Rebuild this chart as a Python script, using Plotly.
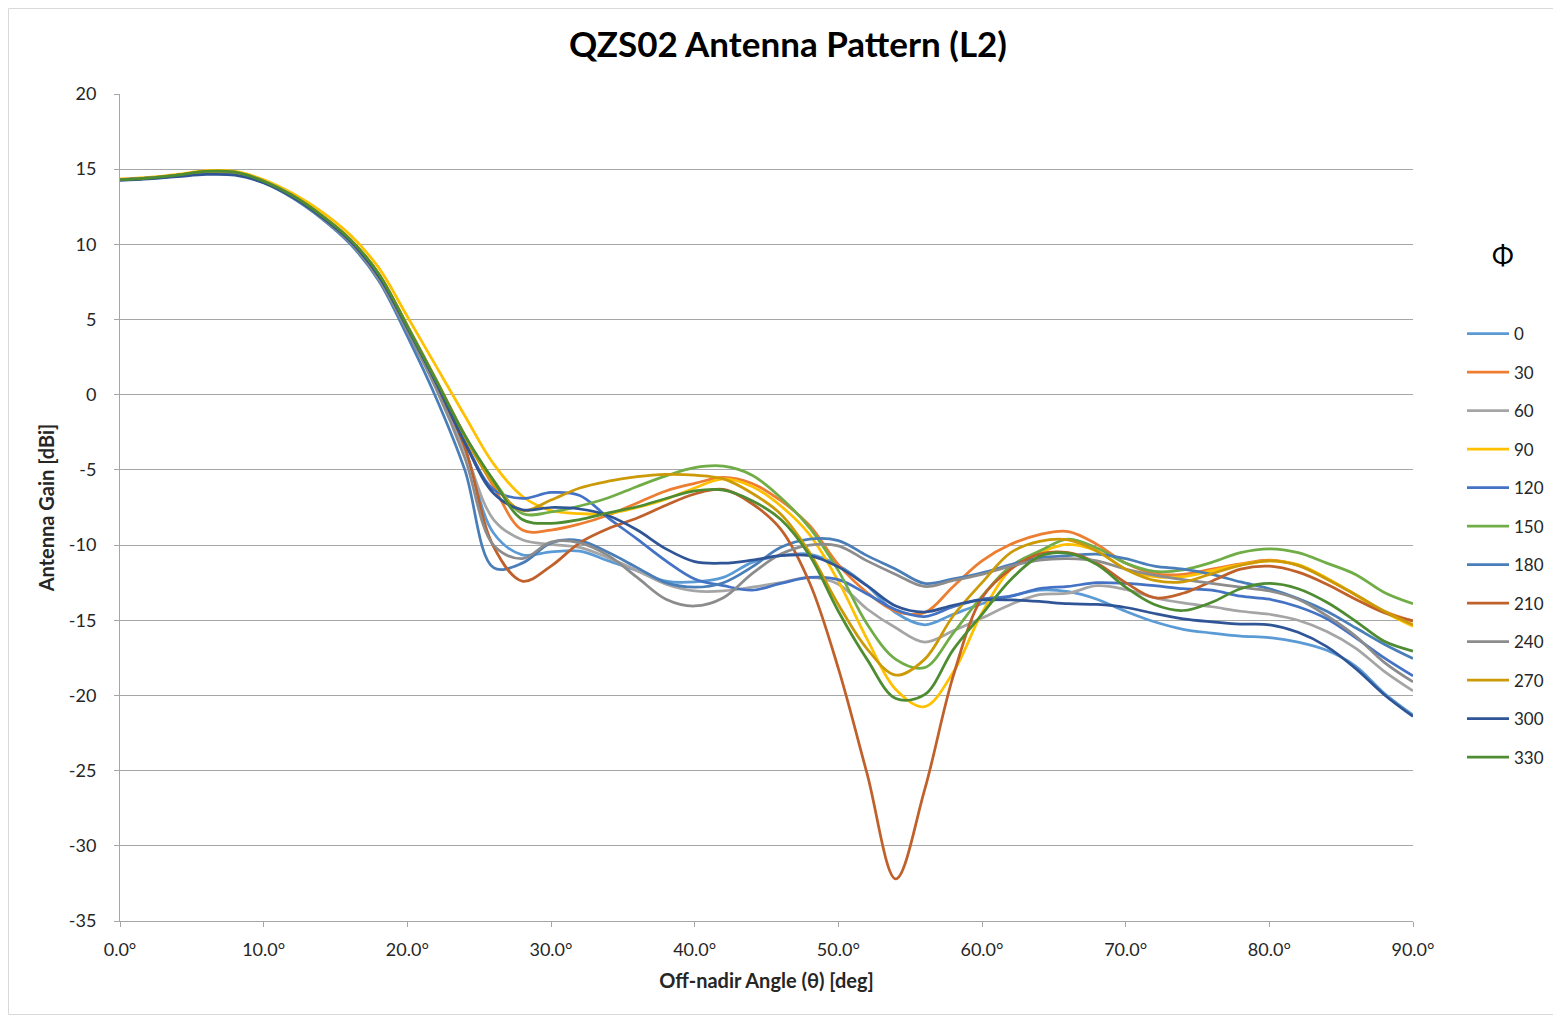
import plotly.graph_objects as go

theta = list(range(0, 92, 2))
x_tick_vals = [0, 10, 20, 30, 40, 50, 60, 70, 80, 90]
x_tick_text = ["0.0°", "10.0°", "20.0°", "30.0°", "40.0°", "50.0°", "60.0°", "70.0°", "80.0°", "90.0°"]
y_tick_vals = [-35, -30, -25, -20, -15, -10, -5, 0, 5, 10, 15, 20]
y_tick_text = ["-35", "-30", "-25", "-20", "-15", "-10", "-5", "0", "5", "10", "15", "20"]
phi_labels = ["0", "30", "60", "90", "120", "150", "180", "210", "240", "270", "300", "330"]

g000 = [14.3,14.4,14.6,14.8,14.75,14.15,13.2,11.85,10.2,7.8, 4.3,0.6,-3.6,-9.2,-10.65, -10.45,-10.4,-11.05,-11.7,-12.4,-12.45,-12.15,-11.15,-10.7,-10.6, -11.35,-12.7,-14.5,-15.3,-14.6,-13.9,-13.4,-13.0,-13.1,-13.6, -14.4,-15.1,-15.6,-15.85,-16.05,-16.15,-16.45,-17.0,-18.05,-19.85,-21.3]
g030 = [14.3,14.4,14.6,14.85,14.8,14.2,13.25,11.95,10.35,8.05, 4.6,1.0,-2.7,-6.1,-9.0, -9.0,-8.6,-8.0,-7.2,-6.4,-5.9,-5.5,-5.9,-7.05,-8.7, -11.3,-13.15,-14.4,-14.5,-12.75,-11.05,-9.95,-9.3,-9.1,-9.95, -11.2,-11.9,-11.95,-11.6,-11.25,-11.0,-11.35,-12.25,-13.3,-14.4,-15.05]
g060 = [14.3,14.4,14.6,14.8,14.75,14.15,13.2,11.85,10.2,7.8, 4.3,0.6,-3.7,-8.3,-9.65, -9.95,-10.15,-10.85,-11.7,-12.6,-13.05,-13.05,-12.8,-12.5,-12.15, -12.6,-14.25,-15.5,-16.45,-15.7,-14.85,-13.95,-13.3,-13.2,-12.7, -12.95,-13.5,-13.85,-14.1,-14.4,-14.6,-15.0,-15.75,-16.85,-18.4,-19.7]
g090 = [14.35,14.45,14.65,14.9,14.85,14.3,13.4,12.2,10.65,8.45, 5.2,1.9,-1.4,-4.6,-6.75, -7.7,-7.9,-7.9,-7.5,-6.95,-6.2,-5.6,-6.1,-7.4,-9.3, -12.4,-16.25,-19.6,-20.75,-18.45,-14.5,-11.6,-10.5,-9.95,-10.4, -11.6,-12.1,-12.1,-11.7,-11.3,-11.05,-11.3,-12.2,-13.3,-14.45,-15.4]
g120 = [14.3,14.4,14.6,14.8,14.75,14.2,13.25,11.9,10.3,7.95, 4.5,0.85,-3.1,-6.3,-6.9, -6.5,-6.7,-8.2,-9.6,-11.05,-12.25,-12.7,-13.0,-12.55,-12.15, -12.3,-13.25,-14.3,-14.75,-14.1,-13.6,-13.4,-12.9,-12.75,-12.5, -12.55,-12.7,-12.9,-13.0,-13.4,-13.6,-14.1,-14.9,-16.15,-17.5,-18.7]
g150 = [14.3,14.4,14.6,14.85,14.8,14.2,13.25,11.95,10.35,8.05, 4.6,1.0,-2.7,-5.7,-7.9, -7.8,-7.4,-6.85,-6.1,-5.4,-4.85,-4.75,-5.35,-6.85,-8.85, -11.7,-15.25,-17.6,-18.15,-15.85,-13.4,-11.4,-10.4,-9.6,-10.2, -11.2,-11.75,-11.65,-11.15,-10.5,-10.25,-10.5,-11.2,-11.95,-13.15,-13.9]
g180 = [14.3,14.4,14.55,14.75,14.7,14.1,13.1,11.75,10.05,7.6, 3.9,-0.2,-5.0,-11.5,-11.2, -9.85,-9.7,-10.5,-11.5,-12.5,-12.8,-12.5,-11.45,-10.15,-9.6, -9.7,-10.7,-11.6,-12.55,-12.25,-11.85,-11.3,-10.85,-10.7,-10.6, -10.9,-11.4,-11.6,-11.95,-12.45,-12.9,-13.55,-14.4,-15.5,-16.6,-17.55]
g210 = [14.3,14.4,14.6,14.8,14.75,14.15,13.2,11.85,10.2,7.8, 4.35,0.7,-3.5,-10.1,-12.4, -11.4,-9.85,-8.9,-8.2,-7.35,-6.6,-6.3,-7.25,-8.95,-12.5, -18.2,-25.2,-32.2,-26.3,-18.7,-13.5,-11.6,-10.6,-10.5,-11.2, -12.5,-13.5,-13.2,-12.4,-11.6,-11.4,-11.8,-12.6,-13.6,-14.5,-15.05]
g240 = [14.3,14.4,14.55,14.75,14.7,14.1,13.15,11.8,10.15,7.7, 4.2,0.4,-4.2,-10.0,-10.9, -9.8,-9.85,-10.7,-12.15,-13.6,-14.05,-13.5,-11.9,-10.6,-10.0, -10.05,-11.05,-11.95,-12.75,-12.35,-11.95,-11.4,-11.0,-10.9,-11.05, -11.6,-12.0,-12.3,-12.55,-12.8,-13.05,-13.6,-14.7,-16.05,-17.8,-19.1]
g270 = [14.3,14.4,14.6,14.85,14.8,14.2,13.25,11.95,10.35,8.05, 4.55,0.95,-2.8,-5.9,-7.7, -7.0,-6.2,-5.75,-5.45,-5.3,-5.35,-5.6,-6.55,-7.95,-10.5, -13.95,-16.9,-18.65,-17.6,-14.7,-12.5,-10.5,-9.75,-9.65,-10.4, -11.6,-12.35,-12.45,-11.9,-11.35,-11.05,-11.35,-12.25,-13.3,-14.4,-15.3]
g300 = [14.25,14.35,14.5,14.65,14.6,14.1,13.15,11.85,10.25,7.9, 4.45,0.8,-3.2,-6.55,-7.65, -7.5,-7.6,-8.05,-9.0,-10.25,-11.1,-11.2,-11.0,-10.7,-10.7, -11.45,-12.7,-14.05,-14.45,-14.0,-13.65,-13.65,-13.75,-13.9,-13.95, -14.15,-14.55,-14.9,-15.1,-15.25,-15.3,-15.8,-16.75,-18.2,-19.95,-21.4]
g330 = [14.3,14.4,14.6,14.85,14.8,14.2,13.25,11.95,10.35,8.05, 4.55,0.95,-2.7,-5.7,-8.3, -8.55,-8.3,-7.85,-7.45,-6.9,-6.4,-6.35,-7.05,-8.3,-10.7, -14.4,-17.6,-20.2,-19.95,-16.95,-14.6,-12.3,-10.75,-10.55,-11.3, -12.8,-13.95,-14.35,-13.8,-12.9,-12.55,-12.9,-13.8,-15.05,-16.4,-17.05]

series = [g000, g030, g060, g090, g120, g150, g180, g210, g240, g270, g300, g330]
colors = ["#5B9BD5", "#ED7D31", "#A5A5A5", "#FFC000", "#4472C4", "#70AD47",
          "#4A7EB8", "#C0602A", "#8C8C8C", "#CC9A06", "#2F5597", "#4E8C32"]

FONT = "Lato, 'Open Sans', 'DejaVu Sans', sans-serif"

fig = go.Figure()
for i, (name, vals) in enumerate(zip(phi_labels, series)):
    fig.add_trace(go.Scatter(
        x=theta, y=vals, name=name, mode="lines",
        line=dict(color=colors[i], width=2.75, shape="spline", smoothing=1.0),
        legendgroup=name,
    ))

# page offset of the figure (browser body margin)
OFF = 8
W, H = 1561 - OFF, 1017 - OFF
L, R, T, B = 120 - OFF, 148, 94 - OFF, 96
PW, PH = 1293, 827  # plot area size


def px(xpage):
    return (xpage - 120) / PW


def py(ypage):
    return (921 - ypage) / PH


fig.update_layout(
    width=W, height=H,
    margin=dict(l=L, r=R, t=T, b=B),
    paper_bgcolor="white", plot_bgcolor="white",
    font=dict(family=FONT, color="#262626"),
    title=dict(text="<b>QZS02 Antenna Pattern (L2)</b>", x=(788 - OFF) / W, xanchor="center",
               y=1 - (45 - OFF) / H, yanchor="middle", yref="container",
               font=dict(size=35, color="#000000", family=FONT)),
    xaxis=dict(range=[0, 90], tickvals=x_tick_vals, ticktext=x_tick_text,
               showgrid=False, zeroline=False, showline=True, linecolor="#A6A6A6", linewidth=1,
               ticks="outside", ticklen=5, tickcolor="#A6A6A6", ticklabelstandoff=7,
               tickfont=dict(size=18, color="#262626"),
               title=dict(text="<b>Off-nadir Angle (θ) [deg]</b>", font=dict(size=20, color="#262626"), standoff=15)),
    yaxis=dict(range=[-35, 20], tickvals=y_tick_vals, ticktext=y_tick_text,
               showgrid=True, gridcolor="#A6A6A6", gridwidth=1, zeroline=False,
               showline=True, linecolor="#A6A6A6", linewidth=1,
               ticks="outside", ticklen=5, tickcolor="#A6A6A6", ticklabelstandoff=14,
               tickfont=dict(size=18, color="#262626"),
               title=dict(text="<b>Antenna Gain [dBi]</b>", font=dict(size=20, color="#262626"), standoff=8)),
    legend=dict(x=px(1462), xanchor="left", y=py(316), yanchor="top",
                font=dict(size=17, color="#262626", family=FONT),
                tracegroupgap=13.4, bgcolor="rgba(0,0,0,0)", traceorder="grouped",
                itemwidth=42),
    showlegend=True,
)

fig.add_annotation(text="Φ", xref="paper", yref="paper",
                   x=px(1503), y=py(255),
                   showarrow=False, font=dict(size=26, color="#000000", family=FONT),
                   xanchor="center", yanchor="middle")

fig.add_shape(type="rect", xref="paper", yref="paper",
              x0=px(8.5), x1=px(1556.5), y0=py(1014.5), y1=py(8.5),
              line=dict(color="#D9D9D9", width=1), fillcolor="rgba(0,0,0,0)", layer="below")

fig.write_html("out.html")
